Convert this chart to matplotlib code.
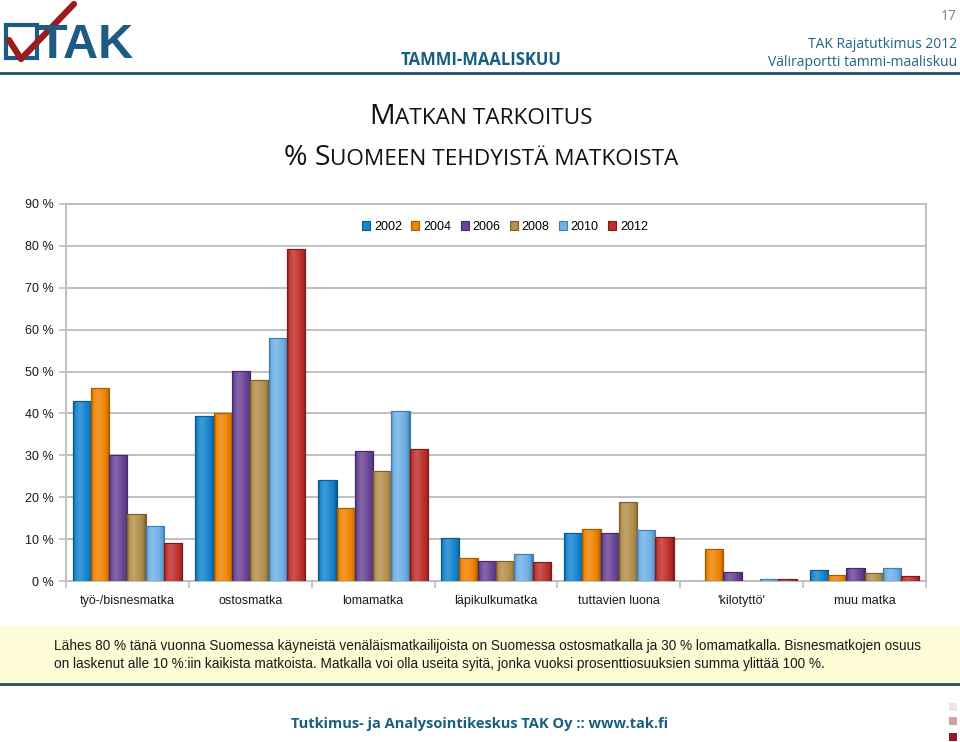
import numpy as np
import matplotlib
matplotlib.use("Agg")
import matplotlib.pyplot as plt
from matplotlib.lines import Line2D
from matplotlib.patches import Rectangle
from matplotlib.colors import to_rgb

categories = ["työ-/bisnesmatka", "ostosmatka", "lomamatka", "läpikulkumatka",
              "tuttavien luona", "'kilotyttö'", "muu matka"]
years = ["2002", "2004", "2006", "2008", "2010", "2012"]
v2002 = [42.9, 39.3, 24.0, 10.2, 11.4, np.nan, 2.6]
v2004 = [46.0, 40.2, 17.4, 5.5, 12.4, 7.6, 1.4]
v2006 = [30.0, 50.2, 31.0, 4.8, 11.4, 2.1, 3.1]
v2008 = [16.0, 48.1, 26.2, 4.8, 18.8, np.nan, 1.9]
v2010 = [13.1, 57.9, 40.5, 6.4, 12.1, 0.5, 3.1]
v2012 = [9.0, 79.3, 31.4, 4.5, 10.5, 0.5, 1.2]
series = [v2002, v2004, v2006, v2008, v2010, v2012]
yticks = [0, 10, 20, 30, 40, 50, 60, 70, 80, 90]
ytick_labels = [f"{t} %" for t in yticks]

colors = ["#1485d0", "#f08400", "#6b4596", "#b58f4c", "#6fb0e6", "#c0302b"]
edges = ["#0b5a8f", "#a85b00", "#46296a", "#7d6030", "#3f7fb5", "#7f1a16"]

W, H = 960, 742
fig = plt.figure(figsize=(W / 100, H / 100), dpi=100)
fig.patch.set_facecolor("white")

def fx(px):
    return px / W

def fy(py):
    return 1 - py / H

def shade(c, f):
    r = np.array(to_rgb(c))
    if f >= 0:
        return r + (1 - r) * f
    return r * (1 + f)

ax = fig.add_axes([fx(66), fy(581), fx(926) - fx(66), fy(204) - fy(581)])
n = len(years)
bw = 0.149
x = np.arange(len(categories))
grad_x = np.linspace(0, 1, 32)
prof = np.interp(grad_x, [0, 0.12, 0.35, 0.65, 0.88, 1.0],
                 [-0.3, 0.05, 0.18, 0.05, -0.1, -0.35])
for i, (vals, c, ec) in enumerate(zip(series, colors, edges)):
    bars = ax.bar(x + (i - (n - 1) / 2) * bw, vals, width=bw, color=c,
                  edgecolor=ec, linewidth=0.8, label=years[i], zorder=3)
    img = np.array([shade(c, f) for f in prof])[None, :, :]
    for p in bars.patches:
        h = p.get_height()
        if not np.isfinite(h) or h <= 0:
            continue
        im = ax.imshow(img, extent=(p.get_x(), p.get_x() + p.get_width(), 0, h),
                       aspect="auto", zorder=3.5, interpolation="bilinear")
        im.set_clip_path(p)
        ax.add_patch(Rectangle((p.get_x(), 0), p.get_width(), h, fill=False,
                               edgecolor=ec, linewidth=0.8, zorder=4))

ax.set_xlim(-0.5, len(categories) - 0.5)
ax.set_ylim(0, 90)
ax.set_aspect("auto")
ax.set_yticks(yticks)
ax.set_yticklabels(ytick_labels)
ax.yaxis.grid(True, color="#bfbfbf", linewidth=1.4, zorder=0)
ax.set_xticks(x)
ax.set_xticklabels(categories)
ax.set_xticks(np.arange(len(categories) + 1) - 0.5, minor=True)
ax.tick_params(axis="x", which="major", length=0, pad=10, labelsize=9,
               labelcolor="#1a1a1a")
ax.tick_params(axis="x", which="minor", length=5, color="#bfbfbf", width=1.2)
ax.tick_params(axis="y", length=5, color="#bfbfbf", width=1.2, labelsize=9,
               labelcolor="#1a1a1a", pad=4)
for lab in ax.get_xticklabels() + ax.get_yticklabels():
    lab.set_fontfamily("Liberation Sans")
for s in ax.spines.values():
    s.set_color("#bfbfbf")
    s.set_linewidth(1.4)

leg = ax.legend(loc="upper center",
                bbox_to_anchor=((505 - 66) / (926 - 66), 0.985),
                ncol=6, frameon=False, handlelength=0.65, handleheight=0.65,
                handletextpad=0.3, columnspacing=0.75,
                prop={"family": "Liberation Sans", "size": 9})

# Header
fig.text(fx(957), fy(17), "17", ha="right", va="center", fontsize=10,
         color="#7f7f7f", family="Open Sans")
fig.text(fx(957), fy(44), "TAK Rajatutkimus 2012", ha="right", va="center",
         fontsize=10, color="#1f6585", family="Open Sans")
fig.text(fx(957), fy(62), "Väliraportti tammi-maaliskuu", ha="right", va="center",
         fontsize=10, color="#1f6585", family="Open Sans")
fig.text(fx(481), fy(60), "TAMMI-MAALISKUU", ha="center", va="center",
         fontsize=12, color="#175f80", family="Open Sans", fontweight="bold")
fig.add_artist(Line2D([0, 1], [fy(73), fy(73)], transform=fig.transFigure,
                      color="#1f4f66", linewidth=2))

# logo
fig.add_artist(Rectangle((fx(6), fy(58)), fx(37) - fx(6), fy(25) - fy(58),
                         transform=fig.transFigure, fill=False,
                         edgecolor="#1d5b85", linewidth=3))
fig.text(fx(37), fy(58), "TAK", ha="left", va="baseline", fontsize=35,
         color="#1d5b85", family="Liberation Sans", fontweight="bold")
fig.add_artist(Line2D([fx(9), fx(21), fx(74)], [fy(40), fy(59), fy(4)],
                      transform=fig.transFigure, color="#9b1b1f", linewidth=4.5,
                      solid_capstyle="round"))

# Title with small caps
renderer = fig.canvas.get_renderer()

def small_caps_line(y_px, pieces, cx_px=481):
    artists = []
    for txt, size in pieces:
        t = fig.text(0, fy(y_px), txt, fontsize=size, family="Open Sans",
                     color="#111111", va="baseline", ha="left")
        artists.append(t)
    widths = [a.get_window_extent(renderer).width for a in artists]
    total = sum(widths)
    start = cx_px - total / 2
    for a, w in zip(artists, widths):
        a.set_x(fx(start))
        start += w

small_caps_line(124, [("M", 20.5), ("ATKAN TARKOITUS", 16.2)])
small_caps_line(165, [("% S", 20.5), ("UOMEEN TEHDYISTÄ MATKOISTA", 16.2)])

# Note box
fig.add_artist(Rectangle((0, fy(683)), 1, fy(626) - fy(683),
                         transform=fig.transFigure, facecolor="#fdfcd6",
                         edgecolor="none"))
fig.add_artist(Line2D([0, 1], [fy(684), fy(684)], transform=fig.transFigure,
                      color="#1f4f66", linewidth=2))
fig.text(fx(54), fy(646),
         "Lähes 80 % tänä vuonna Suomessa käyneistä venäläismatkailijoista on Suomessa ostosmatkalla ja 30 % lomamatkalla. Bisnesmatkojen osuus",
         ha="left", va="center", fontsize=9.8, family="Liberation Sans", color="#1a1a1a")
fig.text(fx(54), fy(664),
         "on laskenut alle 10 %:iin kaikista matkoista. Matkalla voi olla useita syitä, jonka vuoksi prosenttiosuuksien summa ylittää 100 %.",
         ha="left", va="center", fontsize=9.8, family="Liberation Sans", color="#1a1a1a")

# Footer
fig.text(fx(480), fy(724), "Tutkimus- ja Analysointikeskus TAK Oy :: www.tak.fi",
         ha="center", va="center", fontsize=10.5, family="Open Sans",
         fontweight="bold", color="#17607f")
for yy, cc in [(707, "#ece6ea"), (721, "#c9a3a6"), (737, "#8e1b1e")]:
    fig.add_artist(Rectangle((fx(949), fy(yy + 4)), fx(8), fy(0) - fy(8),
                             transform=fig.transFigure, facecolor=cc,
                             edgecolor="none"))

fig.savefig("out.png", dpi=100)
